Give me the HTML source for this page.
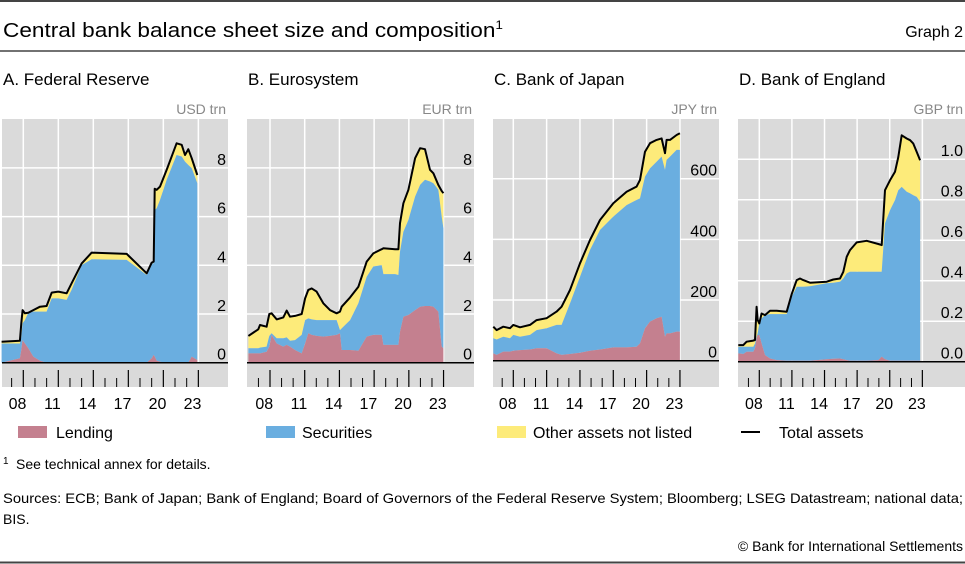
<!DOCTYPE html>
<html><head><meta charset="utf-8">
<style>
html,body{margin:0;padding:0;background:#fff;}
svg{display:block;font-family:"Liberation Sans",sans-serif;}
</style></head>
<body>
<svg id="chart" width="965" height="564" viewBox="0 0 965 564" xmlns="http://www.w3.org/2000/svg">
<line x1="0" y1="1" x2="965" y2="1" stroke="#444" stroke-width="2"/>
<text x="3" y="37" font-size="20" fill="#000" textLength="500" lengthAdjust="spacingAndGlyphs">Central bank balance sheet size and composition<tspan font-size="12" dy="-8">1</tspan></text>
<text x="963" y="37" font-size="16" text-anchor="end" fill="#000">Graph 2</text>
<line x1="0" y1="51" x2="965" y2="51" stroke="#444" stroke-width="1.5"/>
<text x="3" y="85" font-size="17">A. Federal Reserve</text>
<text x="248" y="85" font-size="17">B. Eurosystem</text>
<text x="494" y="85" font-size="17">C. Bank of Japan</text>
<text x="739" y="85" font-size="17">D. Bank of England</text>
<g id="panels"></g>
<g>
<rect x="18" y="426" width="29" height="12" fill="#c4808f"/>
<text x="56" y="438" font-size="16">Lending</text>
<rect x="266" y="426" width="29" height="12" fill="#6aaee0"/>
<text x="302" y="438" font-size="16">Securities</text>
<rect x="497" y="426" width="29" height="12" fill="#fdeb7a"/>
<text x="533" y="438" font-size="16">Other assets not listed</text>
<line x1="741" y1="432" x2="760" y2="432" stroke="#000" stroke-width="2"/>
<text x="779" y="438" font-size="16">Total assets</text>
</g>
<text x="3" y="469" font-size="14"><tspan font-size="10" dy="-5">1</tspan><tspan x="16" dy="5">See technical annex for details.</tspan></text>
<text x="3" y="503" font-size="14" textLength="960" lengthAdjust="spacingAndGlyphs">Sources: ECB; Bank of Japan; Bank of England; Board of Governors of the Federal Reserve System; Bloomberg; LSEG Datastream; national data;</text>
<text x="3" y="524" font-size="14">BIS.</text>
<text x="963" y="551" font-size="14" text-anchor="end">© Bank for International Settlements</text>
<line x1="0" y1="562.5" x2="965" y2="562.5" stroke="#444" stroke-width="2"/>
</svg>
<script>
// ---- Data (years on chart axis, values in trillions of local currency) ----
const fedDates = [2006.14,2007.71,2007.83,2007.94,2008.14,2008.43,2008.86,2009.43,2010.0,2010.43,2011.0,2011.71,2012.14,2013.0,2013.86,2016.86,2018.57,2019.0,2019.17,2019.26,2019.43,2019.71,2020.29,2021.14,2021.57,2021.86,2022.14,2022.43,2022.91];
const fedLending = [0,.18,.52,.93,.79,.59,.25,.08,0,0,0,0,0,0,0,0,0,.18,.32,.25,.08,.04,0,0,0,0,0,.25,.11];
const fedSecurities = [.79,.61,.55,.69,.96,1.46,1.85,2.02,2.10,2.64,2.64,2.58,2.99,4.01,4.25,4.22,3.60,3.90,3.76,6.02,6.26,6.64,7.51,8.53,8.47,8.26,8.12,7.74,7.26];
const fedOther = [.07,.11,.55,.54,.28,0,.06,.20,.23,.24,.28,.27,.27,.07,.27,.25,.07,.03,.07,.87,.76,.55,.41,.48,.48,.27,.65,.41,.34];

const ecbDates = [2006.13,2006.99,2007.14,2007.71,2007.94,2008.14,2008.58,2009.15,2009.44,2009.73,2010.16,2010.74,2011.03,2011.31,2011.60,2012.03,2012.61,2013.19,2013.76,2014.05,2014.20,2014.92,2015.64,2016.36,2016.93,2017.65,2017.80,2018.81,2019.10,2019.24,2019.53,2019.96,2020.54,2020.97,2021.40,2021.83,2022.12,2022.55,2022.84,2022.99];
const ecbLending = [.38,.38,.38,.45,.66,1.14,.79,.66,.73,.66,.52,.38,.79,1.21,1.14,1.10,1.07,1.10,1.14,1.21,.52,.52,.49,1.07,1.14,1.14,.73,.73,.73,1.27,1.89,1.96,2.16,2.30,2.33,2.33,2.30,2.10,.66,.59];
const ecbSecurities = [.21,.21,.24,.21,.44,.07,.21,.34,.31,.24,.41,.76,.96,.61,.64,.65,.68,.65,.61,.13,.89,1.23,1.95,2.46,2.81,2.87,2.91,2.91,2.87,3.29,3.49,3.90,4.66,5.00,5.18,5.11,5.07,5.00,5.34,4.93];
const ecbOther = [.51,.78,.93,.82,.90,.82,.78,.86,1.10,.99,.99,.86,.89,1.17,1.27,1.17,.69,.41,.28,.76,.89,.93,.68,.62,.54,.65,1.06,1.02,1.06,1.17,1.17,1.24,1.58,1.51,1.26,.48,.41,.20,1.05,1.44];

const bojDates = [2006.2,2006.5,2007.1,2007.7,2008.0,2008.6,2009.5,2010.1,2011.0,2011.9,2012.35,2013.1,2014.0,2014.9,2015.8,2017.0,2018.2,2019.1,2019.4,2019.85,2020.3,2020.9,2021.35,2021.65,2021.8,2022.1,2022.7,2023.0];
const bojLending = [24,19,30,30,33,35,37,41,41,24,19,22,26,33,37,44,44,46,57,107,129,140,145,79,90,90,96,96];
const bojSecurities = [50,51,49,44,52,44,48,60,66,94,99,167,251,332,394,431,469,484,478,500,505,516,528,550,572,583,599,599];
const bojOther = [38,31,33,33,33,31,33,33,33,44,60,44,44,33,33,44,44,44,61,82,83,72,60,55,66,55,49,55];

const boeDates = [2006.07,2006.53,2006.83,2007.45,2007.6,2007.75,2007.85,2008.0,2008.21,2008.52,2008.98,2009.6,2010.52,2010.98,2011.44,2011.74,2012.05,2012.66,2014.2,2014.81,2015.42,2015.73,2016.04,2016.34,2016.96,2017.88,2018.95,2019.26,2019.56,2020.02,2020.48,2020.79,2021.1,2021.56,2021.87,2022.17,2022.48,2022.79];
const boeLending = [.041,.038,.049,.049,.066,.115,.132,.132,.090,.033,.016,.008,.005,.005,.005,.005,.005,.005,.012,.015,.016,.012,.008,.005,.005,.005,.008,.025,.012,.005,.005,.005,.005,.005,.005,.005,.005,.005];
const boeSecurities = [.033,.036,.025,.025,.024,.008,.008,.057,.124,.197,.219,.227,.230,.316,.365,.365,.365,.368,.375,.375,.379,.399,.428,.439,.439,.439,.436,.419,.671,.743,.793,.842,.858,.834,.826,.817,.809,.784];
const boeOther = [.008,.008,.025,.030,.017,.148,.066,0,.024,0,.017,.017,.012,.013,.033,.041,.033,.017,.008,.016,.016,.033,.082,.107,.145,.153,.137,.132,.164,.148,.140,.164,.255,.263,.263,.255,.222,.206];

const yearTickLabels = ['08','11','14','17','20','23'];
const majorYears = [2008,2011,2014,2017,2020,2023];
const minorYears = [2007,2009,2010,2012,2013,2015,2016,2018,2019,2021,2022];
const fedYTicks = [0,2,4,6,8];
const ecbYTicks = [0,2,4,6,8];
const bojYTicks = [0,200,400,600];
const boeYTicks = [0,0.2,0.4,0.6,0.8,1.0];

const NS = 'http://www.w3.org/2000/svg';
const panelsG = document.getElementById('panels');
function mk(tag, attrs, parent){
  const e = document.createElementNS(NS, tag);
  for (const k in attrs) e.setAttribute(k, attrs[k]);
  (parent||panelsG).appendChild(e);
  return e;
}

// layout (pixels)
const layouts = [
  {id:'fed', x0:2, x1:228, x2008:23.3, ppy:11.67, zero:362.7, ppu:24.35, unit:'USD trn', dec:0,
   dates:fedDates, lending:fedLending, securities:fedSecurities, other:fedOther, ticks:fedYTicks},
  {id:'ecb', x0:247, x1:474, x2008:270, ppy:11.57, zero:362.7, ppu:24.35, unit:'EUR trn', dec:0,
   dates:ecbDates, lending:ecbLending, securities:ecbSecurities, other:ecbOther, ticks:ecbYTicks},
  {id:'boj', x0:493, x1:719, x2008:513.3, ppy:11.11, zero:360.7, ppu:0.3033, unit:'JPY trn', dec:0,
   dates:bojDates, lending:bojLending, securities:bojSecurities, other:bojOther, ticks:bojYTicks},
  {id:'boe', x0:738, x1:965, x2008:759.3, ppy:10.87, zero:361.7, ppu:202.5, unit:'GBP trn', dec:1,
   dates:boeDates, lending:boeLending, securities:boeSecurities, other:boeOther, ticks:boeYTicks}
];
const TOP = 119, BOT = 387;

layouts.forEach(L => {
  const g = mk('g', {});
  
  
  const xS = u => L.x2008 + (u - 2008) * L.ppy;
  const yS = v => L.zero - v * L.ppu;

  const bg = mk('rect', {x:L.x0, y:TOP, width:L.x1 - L.x0, height:BOT - TOP, fill:'#dadada'}, g);
  
  

  // gridlines
  L.ticks.forEach(t => {
    if (t === 0) return;
    const gl = mk('line', {x1:L.x0, x2:L.x1, y1:yS(t), y2:yS(t), stroke:'#fff', 'stroke-width':1.5}, g);
    
    
  });
  majorYears.forEach(yr => {
    const gl = mk('line', {x1:xS(yr), x2:xS(yr), y1:TOP, y2:L.zero, stroke:'#fff', 'stroke-width':1.5}, g);
    
    
  });

  // stacked areas
  const n = L.dates.length;
  const c1 = [], c2 = [], c3 = [];
  for (let i = 0; i < n; i++) {
    c1.push(L.lending[i]);
    c2.push(L.lending[i] + L.securities[i]);
    c3.push(L.lending[i] + L.securities[i] + L.other[i]);
  }
  function band(lo, hi, fill, name){
    let pts = [];
    for (let i = 0; i < n; i++) pts.push(xS(L.dates[i]).toFixed(1) + ',' + yS(hi[i]).toFixed(1));
    for (let i = n - 1; i >= 0; i--) pts.push(xS(L.dates[i]).toFixed(1) + ',' + yS(lo ? lo[i] : 0).toFixed(1));
    const p = mk('polygon', {points:pts.join(' '), fill:fill}, g);
    
    
  }
  band(c2, c3, '#fdeb7a', 'other-assets-area');
  band(c1, c2, '#6aaee0', 'securities-area');
  band(null, c1, '#c4808f', 'lending-area');

  let d = '';
  for (let i = 0; i < n; i++) d += (i ? 'L' : 'M') + xS(L.dates[i]).toFixed(1) + ' ' + yS(c3[i]).toFixed(1);
  const tl = mk('path', {d:d, fill:'none', stroke:'#000', 'stroke-width':2, 'stroke-linejoin':'round'}, g);
  
  

  // zero axis
  const ax = mk('line', {x1:L.x0, x2:L.x1, y1:L.zero, y2:L.zero, stroke:'#000', 'stroke-width':1.5}, g);
  
  

  // ticks
  majorYears.forEach((yr, i) => {
    const tk = mk('line', {x1:xS(yr), x2:xS(yr), y1:370, y2:BOT, stroke:'#000', 'stroke-width':1.2}, g);
    
    
    const lb = mk('text', {x:xS(yr) - L.ppy / 2, y:409, 'font-size':16, 'text-anchor':'middle', fill:'#000'}, g);
    lb.textContent = yearTickLabels[i];
    
    
  });
  minorYears.forEach(yr => {
    const tk = mk('line', {x1:xS(yr), x2:xS(yr), y1:378, y2:BOT, stroke:'#000', 'stroke-width':1}, g);
    
    
  });

  // y labels
  const lx = L.x1 - 2;
  L.ticks.forEach(t => {
    const lb = mk('text', {x:lx, y:yS(t) - 3, 'font-size':16, 'text-anchor':'end', fill:'#000'}, g);
    lb.textContent = t.toFixed(L.dec);
    
    
  });
  const ul = mk('text', {x:lx, y:114, 'font-size':14, 'text-anchor':'end', fill:'#888'}, g);
  ul.textContent = L.unit;
  
  
});
</script>
</body></html>
